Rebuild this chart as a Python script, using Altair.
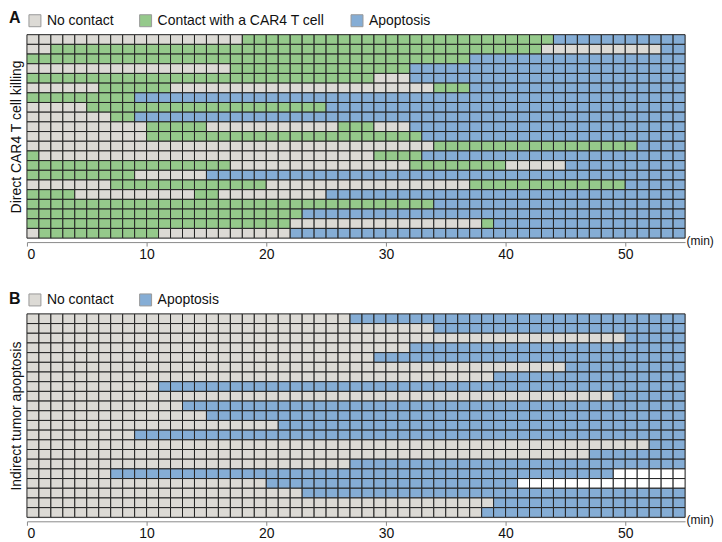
import altair as alt
import pandas as pd

FONT = "Liberation Sans, Arial, Helvetica, sans-serif"

N = "No contact"
C = "Contact with a CAR4 T cell"
A = "Apoptosis"
X = "Not tracked"

state_domain = [N, C, A, X]
state_colors = ["#dcdad5", "#95c98b", "#85add5", "#ffffff"]

n_minutes = 55
tick_minutes = [0, 10, 20, 30, 40, 50]

# Each tracked cell (row): list of (state, minute at which that state starts).
# A state lasts until the next listed start (or until the end of the recording).
direct_rows = [
    [(N, 0), (C, 18), (A, 44)],
    [(N, 0), (C, 2), (N, 43), (A, 53)],
    [(C, 0), (A, 37)],
    [(N, 0), (C, 17), (A, 32)],
    [(C, 0), (N, 29), (A, 32)],
    [(N, 0), (C, 6), (N, 12), (C, 34), (A, 37)],
    [(C, 0), (A, 9)],
    [(N, 0), (C, 5), (A, 25)],
    [(N, 0), (C, 7), (A, 9)],
    [(N, 0), (C, 10), (N, 15), (C, 26), (N, 29), (A, 32)],
    [(N, 0), (C, 10), (A, 33)],
    [(N, 0), (C, 34), (A, 51)],
    [(C, 0), (N, 1), (C, 29), (A, 33)],
    [(C, 0), (N, 17), (C, 32), (N, 40), (A, 45)],
    [(C, 0), (N, 9), (A, 15)],
    [(N, 0), (C, 7), (N, 20), (C, 37), (A, 50)],
    [(C, 0), (N, 4), (C, 14), (N, 16), (A, 25)],
    [(C, 0), (A, 34)],
    [(C, 0), (A, 23)],
    [(C, 0), (N, 22), (C, 38), (A, 39)],
    [(N, 0), (C, 1), (N, 11), (A, 22)],
]

indirect_rows = [
    [(N, 0), (A, 27)],
    [(N, 0), (A, 34)],
    [(N, 0), (A, 50)],
    [(N, 0), (A, 32)],
    [(N, 0), (A, 29)],
    [(N, 0), (A, 45)],
    [(N, 0), (A, 39)],
    [(N, 0), (A, 11)],
    [(N, 0), (A, 49)],
    [(N, 0), (A, 13)],
    [(N, 0), (A, 15)],
    [(N, 0), (A, 21)],
    [(N, 0), (A, 9)],
    [(N, 0), (A, 52)],
    [(N, 0), (A, 47)],
    [(N, 0), (A, 27)],
    [(N, 0), (A, 7), (X, 49)],
    [(N, 0), (A, 20), (X, 41)],
    [(N, 0), (A, 23)],
    [(N, 0), (A, 39)],
    [(N, 0), (A, 38)],
]


def cells(rows):
    recs = []
    for r, segs in enumerate(rows, start=1):
        for i, (state, start) in enumerate(segs):
            end = segs[i + 1][1] if i + 1 < len(segs) else n_minutes
            for t in range(start, end):
                recs.append({"row": r, "t0": t, "t1": t + 1, "state": state})
    return pd.DataFrame(recs)


PLOT_W = 660
PLOT_H = 204


def panel(rows, letter, ytitle, legend_states, letter_y):
    df = cells(rows)
    grid = alt.Chart(df).mark_rect(stroke="#222222", strokeWidth=1).encode(
        x=alt.X(
            "t0:Q",
            scale=alt.Scale(domain=[0, n_minutes], nice=False, zero=False),
            axis=alt.Axis(
                values=tick_minutes,
                format="d",
                offset=4,
                tickSize=4,
                labelPadding=1,
                labelFontSize=14,
                labelFont=FONT,
                labelColor="#111111",
                domainColor="#8a8a8a",
                tickColor="#8a8a8a",
                grid=False,
                title="(min)",
                titleFont=FONT,
                titleFontSize=12,
                titleFontWeight="normal",
                titleColor="#111111",
                titleX=PLOT_W + 1,
                titleY=-2,
                titleAlign="left",
                titleBaseline="middle",
                titleAngle=0,
            ),
        ),
        x2="t1:Q",
        y=alt.Y(
            "row:O",
            scale=alt.Scale(paddingInner=0, paddingOuter=0),
            axis=alt.Axis(
                title=ytitle,
                labels=False,
                ticks=False,
                domain=False,
                titleFont=FONT,
                titleFontSize=14,
                titleFontWeight="normal",
                titleColor="#111111",
                titlePadding=3,
            ),
        ),
        color=alt.Color(
            "state:N",
            scale=alt.Scale(domain=state_domain, range=state_colors),
            legend=alt.Legend(
                values=legend_states,
                orient="none",
                legendX=1,
                legendY=-21,
                direction="horizontal",
                title=None,
                symbolType="square",
                symbolSize=144,
                symbolStrokeColor="#999999",
                symbolStrokeWidth=1,
                labelFont=FONT,
                labelFontSize=14,
                labelColor="#111111",
                labelOffset=5,
                labelLimit=400,
                columnPadding=24,
            ),
        ),
    )
    letter_mark = alt.Chart(pd.DataFrame({"letter": [letter]})).mark_text(
        align="left", baseline="top", fontSize=16, fontWeight="bold", font=FONT, color="#111111"
    ).encode(text="letter:N", x=alt.value(-18), y=alt.value(letter_y))
    return alt.layer(grid, letter_mark).properties(width=PLOT_W, height=PLOT_H)


top = panel(direct_rows, "A", "Direct CAR4 T cell killing", [N, C, A], -25)
bottom = panel(indirect_rows, "B", "Indirect tumor apoptosis", [N, A], -23)

chart = (
    alt.vconcat(top, bottom, spacing=28)
    .resolve_scale(color="independent")
    .resolve_legend(color="independent")
    .properties(padding=0)
    .configure_view(stroke=None)
    .configure(font=FONT)
)

chart.save("out.html", embed_options={"renderer": "svg", "actions": False})
